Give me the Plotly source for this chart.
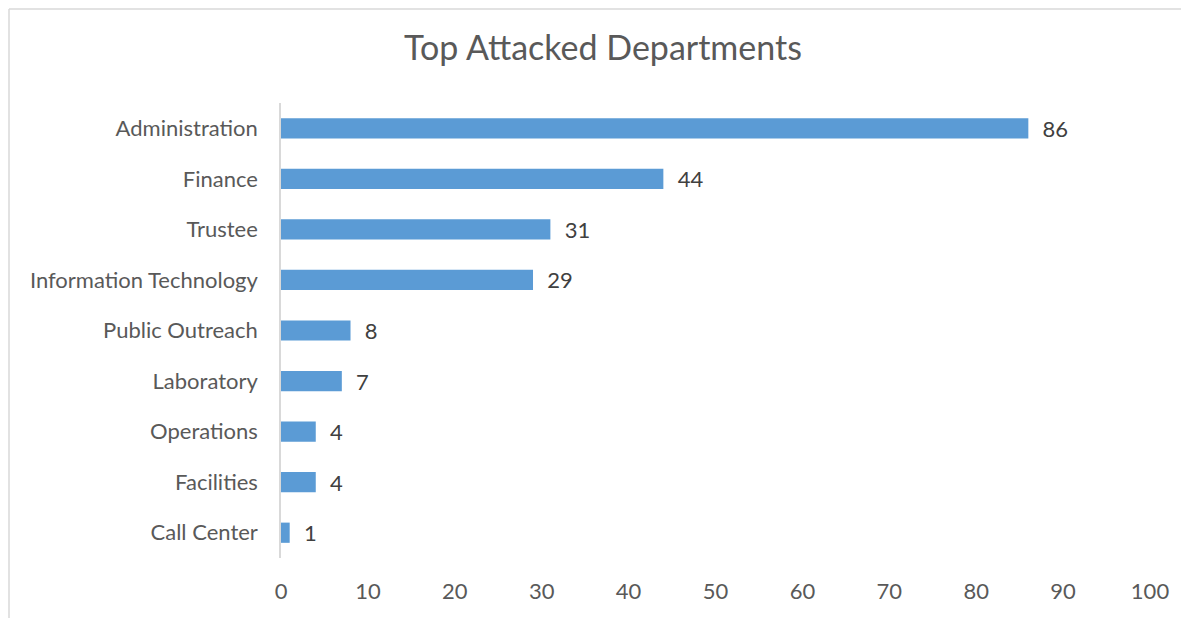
import plotly.graph_objects as go

departments = ["Administration", "Finance", "Trustee", "Information Technology",
               "Public Outreach", "Laboratory", "Operations", "Facilities", "Call Center"]
attacks = [86, 44, 31, 29, 8, 7, 4, 4, 1]
x_ticks = [0, 10, 20, 30, 40, 50, 60, 70, 80, 90, 100]

OFF = 8  # page offset of the figure (browser body margin)
W, H = 1189 - OFF, 618 - OFF
L, T = 281 - OFF, 103 - OFF
R = W - L - 869
B = H - T - 455
pw, ph = W - L - R, H - T - B

def px_x(p):
    return (p - L) / pw

def px_y(p):
    return (H - B - p) / ph

FONT = "Lato"

fig = go.Figure(go.Bar(
    x=attacks, y=departments, orientation="h",
    marker=dict(color="#5B9BD5", line=dict(width=0)),
    width=0.4,
    text=[f"  {v}" for v in attacks], textposition="outside",
    constraintext="none",
    textfont=dict(family=FONT, size=22, color="#404040"),
    cliponaxis=False,
))

fig.update_layout(
    width=W, height=H,
    margin=dict(l=L, r=R, t=T, b=B),
    paper_bgcolor="white", plot_bgcolor="white",
    title=dict(text="Top Attacked Departments", x=(603 - OFF) / W, xref="container",
               xanchor="center",
               y=1 - (48 - OFF) / H, yref="container", yanchor="middle",
               font=dict(family=FONT, size=34, color="#595959")),
    xaxis=dict(range=[0, 100], tickvals=x_ticks, showgrid=False, zeroline=False,
               showline=False, ticks="outside", ticklen=14, tickcolor="rgba(0,0,0,0)",
               tickfont=dict(family=FONT, size=22, color="#595959"),
               fixedrange=True),
    yaxis=dict(categoryorder="array", categoryarray=departments[::-1],
               showgrid=False, zeroline=False, showline=True, linecolor="#d9d9d9",
               linewidth=1.5, ticks="outside", ticklen=17, tickcolor="rgba(0,0,0,0)",
               tickfont=dict(family=FONT, size=22, color="#595959"),
               range=[-0.5, 8.5], fixedrange=True),
    showlegend=False,
    shapes=[
        dict(type="line", xref="paper", yref="paper", x0=px_x(1), x1=px_x(W + 5),
             y0=px_y(1), y1=px_y(1), line=dict(color="#d9d9d9", width=1.5)),
        dict(type="line", xref="paper", yref="paper", x0=px_x(1), x1=px_x(1),
             y0=px_y(1), y1=px_y(H + 5), line=dict(color="#d9d9d9", width=1.5)),
    ],
)

fig.write_html("out.html")
